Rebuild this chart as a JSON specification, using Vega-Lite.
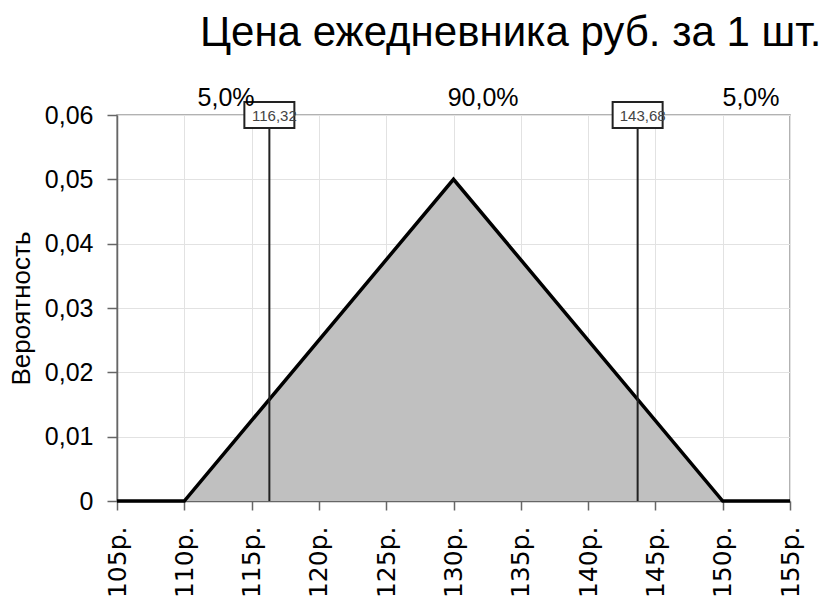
{
  "$schema": "https://vega.github.io/schema/vega-lite/v6.json",
  "autosize": {"type": "none"},
  "width": 673,
  "height": 386,
  "padding": {"left": 117, "top": 115, "right": 45, "bottom": 97},
  "background": "white",
  "config": {
    "view": {"stroke": "#999999", "strokeWidth": 1.5},
    "font": "Liberation Sans"
  },
  "title": {
    "text": "Цена ежедневника руб. за 1 шт.",
    "font": "Liberation Sans",
    "fontSize": 42,
    "fontWeight": "normal",
    "color": "black",
    "anchor": "start",
    "frame": "group",
    "dx": 83,
    "offset": 31
  },
  "datasets": {
    "dist": [
      {"price": 105, "prob": 0},
      {"price": 110, "prob": 0},
      {"price": 130, "prob": 0.05},
      {"price": 150, "prob": 0},
      {"price": 155, "prob": 0}
    ],
    "markers": [
      {"price": 116.32, "label": "116,32"},
      {"price": 143.68, "label": "143,68"}
    ],
    "pcts": [
      {"price": 113.1, "label": "5,0%"},
      {"price": 132.2, "label": "90,0%"},
      {"price": 152.1, "label": "5,0%"}
    ]
  },
  "encoding": {
    "x": {
      "field": "price",
      "type": "quantitative",
      "scale": {"domain": [105, 155], "nice": false, "zero": false},
      "axis": {
        "title": null,
        "values": [105, 110, 115, 120, 125, 130, 135, 140, 145, 150, 155],
        "labelExpr": "datum.value + 'р.'",
        "labelAngle": -90,
        "labelAlign": "right",
        "labelBaseline": "middle",
        "labelFont": "DejaVu Sans",
        "labelFontSize": 25,
        "labelColor": "black",
        "labelPadding": 16,
        "tickSize": 9,
        "tickColor": "#666666",
        "tickWidth": 1.5,
        "domainColor": "#666666",
        "domainWidth": 1.5,
        "gridColor": "#e2e2e2",
        "gridWidth": 1,
        "labelOverlap": false,
        "labelFlush": false
      }
    }
  },
  "layer": [
    {
      "data": {"name": "dist"},
      "mark": {"type": "area", "color": "#c0c0c0", "opacity": 1, "line": {"color": "black", "strokeWidth": 3.5}},
      "encoding": {
        "y": {
          "field": "prob",
          "type": "quantitative",
          "scale": {"domain": [0, 0.06], "nice": false},
          "axis": {
            "title": "Вероятность",
            "titleFont": "Liberation Sans",
            "titleFontSize": 26,
            "titleFontWeight": "normal",
            "titleColor": "black",
            "titlePadding": 10,
            "values": [0, 0.01, 0.02, 0.03, 0.04, 0.05, 0.06],
            "labelExpr": "datum.value == 0 ? '0' : replace(format(datum.value, '.2f'), '.', ',')",
            "labelFont": "Liberation Sans",
            "labelFontSize": 25,
            "labelColor": "black",
            "labelPadding": 14,
            "tickSize": 10,
            "tickColor": "#666666",
            "tickWidth": 1.5,
            "domainColor": "#666666",
            "domainWidth": 1.5,
            "gridColor": "#e2e2e2",
            "gridWidth": 1
          }
        }
      }
    },
    {
      "data": {"name": "markers"},
      "mark": {"type": "rule", "color": "#222222", "strokeWidth": 2},
      "encoding": {"y": {"datum": 0, "type": "quantitative"}, "y2": {"datum": 0.06}}
    },
    {
      "data": {"name": "markers"},
      "mark": {"type": "point", "shape": "M-1,-0.52L1,-0.52L1,0.52L-1,0.52Z", "size": 2500, "filled": false, "fill": "white", "fillOpacity": 1, "stroke": "#222222", "strokeWidth": 2, "opacity": 1, "dx": 5, "dy": 1},
      "encoding": {"y": {"datum": 0.06, "type": "quantitative"}}
    },
    {
      "data": {"name": "markers"},
      "mark": {"type": "text", "font": "Liberation Sans", "fontSize": 15, "color": "#444444", "align": "center", "baseline": "middle", "dx": 5, "dy": 1},
      "encoding": {"y": {"datum": 0.06, "type": "quantitative"}, "text": {"field": "label"}}
    },
    {
      "data": {"name": "pcts"},
      "mark": {"type": "text", "font": "Liberation Sans", "fontSize": 25, "color": "black", "align": "center", "baseline": "alphabetic", "dy": -9},
      "encoding": {"y": {"datum": 0.06, "type": "quantitative"}, "text": {"field": "label"}}
    }
  ]
}
